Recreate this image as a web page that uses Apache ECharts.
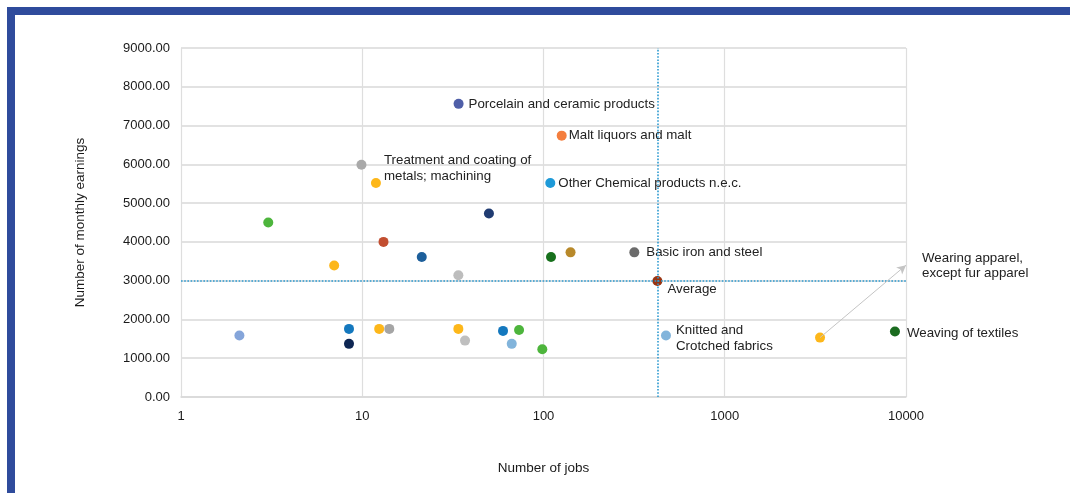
<!DOCTYPE html>
<html lang="en">
<head>
  <meta charset="UTF-8">
  <title>Number of jobs vs monthly earnings</title>
  <script src="https://cdn.jsdelivr.net/npm/echarts@6/dist/echarts.min.js"></script>
  <style>
    html, body {
      margin: 0;
      padding: 0;
      background: #fff;
    }
    #frame {
      position: absolute;
      left: 7px;
      top: 7px;
      right: 0;
      bottom: 0;
      border-left: 8px solid #2f4b9c;
      border-top: 8px solid #2f4b9c;
    }
    #main {
      position: absolute;
      left: 0;
      top: 0;
      width: 1070px;
      height: 493px;
    }
  </style>
</head>
<body>
  <div id="frame"></div>
  <div id="main"></div>

  <script>
    // one entry per industry (x = jobs, y = monthly earnings)
    const jobs = [34, 126, 9.9, 11.9, 109, 50,
                  3.03, 13.1, 21.3, 7.0, 33.9, 110, 141, 317, 425,
                  2.1, 8.45, 8.45, 12.4, 14.1, 33.9, 36.9, 59.8, 73.3, 66.8, 98.5, 474,
                  3355, 8690];
    const earnings = [7560, 6740, 5990, 5520, 5520, 4730,
                      4500, 4000, 3610, 3390, 3140, 3610, 3730, 3730, 2990,
                      1585, 1756, 1370, 1756, 1756, 1756, 1454, 1705, 1730, 1370, 1232, 1585,
                      1532, 1687];
    const names = ['Porcelain and ceramic products', 'Malt liquors and malt', '', 'Treatment and coating of\nmetals; machining', 'Other Chemical products n.e.c.', '',
                   '', '', '', '', '', '', '', 'Basic iron and steel', 'Average',
                   '', '', '', '', '', '', '', '', '', '', '', 'Knitted and\nCrotched fabrics',
                   'Wearing apparel,\nexcept fur apparel', 'Weaving of textiles'];
    const pointColors = ['#4f5fa8', '#f47e3e', '#a9a9a9', '#fdb71a', '#1e9ad8', '#203c72',
                         '#4db53c', '#c24e30', '#1d5f9b', '#fdb71a', '#bdbdbd', '#17701c', '#b8892a', '#6b6b6b', '#9a3411',
                         '#85a5da', '#1478be', '#0e2653', '#fdb71a', '#a5a5a5', '#fdb71a', '#bfbfbf', '#1478be', '#4db53c', '#82b4db', '#4db53c', '#82b4db',
                         '#fdb71a', '#1a6b1f'];

    const avgJobs = 425;
    const avgEarnings = 2990;
    const apparelArrowEnd = [10000, 3400];

    const xTicks = [1, 10, 100, 1000, 10000];

    // label placement tweaks, by point index
    const labelTweaks = {
      0: { distance: 5 },
      1: { distance: 2 },
      3: { distance: 3, offset: [0, -15] },
      4: { distance: 3 },
      13: { distance: 7 },
      14: { distance: 5, offset: [0, 8] },
      26: { distance: 5, offset: [0, 3] },
      27: { distance: 5, offset: [92, -72], lineHeight: 15 },
      28: { distance: 7, offset: [0, 2] }
    };

    const points = jobs.map((j, i) => {
      const item = {
        value: [j, earnings[i]],
        itemStyle: { color: pointColors[i], opacity: 1 }
      };
      if (names[i]) {
        item.label = Object.assign({
          show: true,
          position: 'right',
          color: '#222',
          fontSize: 13.3,
          lineHeight: 16,
          formatter: names[i]
        }, labelTweaks[i] || {});
      }
      return item;
    });

    const chart = echarts.init(document.getElementById('main'));

    const option = {
      animation: false,
      textStyle: { fontFamily: 'Liberation Sans, Arial, sans-serif' },
      grid: { left: 181, right: 164, top: 48, bottom: 96 },
      xAxis: {
        type: 'log',
        logBase: 10,
        min: 1,
        max: 10000,
        name: 'Number of jobs',
        nameLocation: 'middle',
        nameGap: 64,
        nameTextStyle: { fontSize: 13.5, color: '#1a1a1a' },
        axisLine: { show: true, lineStyle: { color: '#d9d9d9', width: 1.5 } },
        axisTick: { show: false },
        axisLabel: {
          margin: 13,
          fontSize: 13,
          color: '#1a1a1a',
          formatter: v => xTicks.includes(Math.round(v)) ? String(Math.round(v)) : ''
        },
        splitLine: { show: true, lineStyle: { color: '#dedede', width: 1.2 } },
        minorTick: { show: false }
      },
      yAxis: {
        type: 'value',
        min: 0,
        max: 9000,
        interval: 1000,
        name: 'Number of monthly earnings',
        nameLocation: 'middle',
        nameGap: 94,
        nameTextStyle: { fontSize: 13.5, color: '#1a1a1a' },
        axisLine: { show: false },
        axisTick: { show: false },
        axisLabel: {
          margin: 11,
          fontSize: 13,
          color: '#1a1a1a',
          formatter: v => v.toFixed(2)
        },
        splitLine: { lineStyle: { color: '#d9d9d9', width: 1.5 } }
      },
      series: [{
        // reference lines + arrow, drawn under the dots
        type: 'scatter',
        z: 1,
        clip: false,
        data: [],
        markLine: {
          silent: true,
          symbol: ['none', 'none'],
          label: { show: false },
          animation: false,
          data: [
            { xAxis: avgJobs, lineStyle: { color: '#2c9ad0', type: 'dotted', width: 1.6 } },
            { yAxis: avgEarnings, lineStyle: { color: '#2c9ad0', type: 'dotted', width: 1.6 } },
            [
              { coord: [jobs[27], earnings[27]], symbol: 'none', lineStyle: { color: '#c4c4c4', type: 'solid', width: 1 } },
              { coord: apparelArrowEnd, symbol: 'arrow', symbolSize: [7, 9] }
            ]
          ]
        }
      }, {
        type: 'scatter',
        z: 3,
        clip: false,
        symbolSize: 10,
        itemStyle: { opacity: 1 },
        data: points
      }]
    };

    chart.setOption(option);
  </script>
</body>
</html>
